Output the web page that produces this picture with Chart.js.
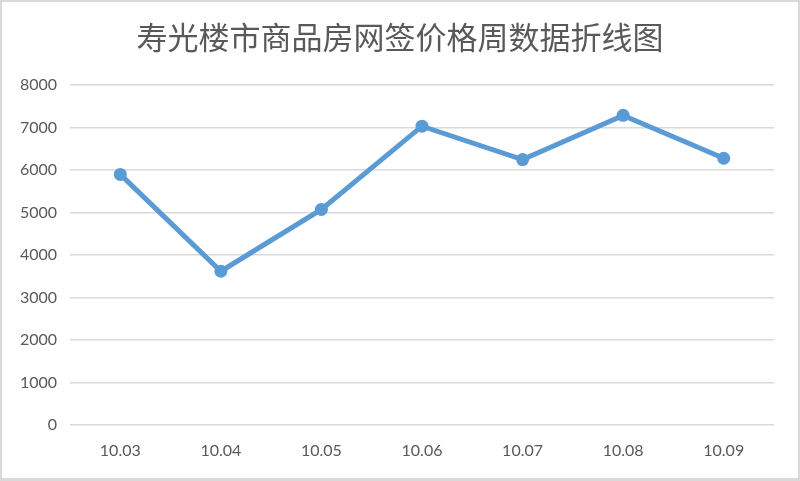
<!DOCTYPE html>
<html>
<head>
<meta charset="utf-8">
<script src="https://cdn.jsdelivr.net/npm/chart.js@4"></script>
<style>
  html, body { margin: 0; padding: 0; background: #fff; }
  #wrap { position: relative; width: 800px; height: 481px; }
  #frame { position: absolute; left: 0; top: 0; width: 800px; height: 481px;
           box-sizing: border-box; border: 2px solid #d9d9d9; border-bottom-width: 3px;
           pointer-events: none; }
</style>
</head>
<body>
<div id="wrap">
  <canvas id="priceChart" width="800" height="481"></canvas>
  <div id="frame"></div>
</div>
<script>
document.addEventListener('DOMContentLoaded', () => {
    const chartTitle = '寿光楼市商品房网签价格周数据折线图';
    const weeks = ['10.03', '10.04', '10.05', '10.06', '10.07', '10.08', '10.09'];
    const prices = [5900, 3620, 5075, 7035, 6250, 7290, 6280];
    const yTicks = [0, 1000, 2000, 3000, 4000, 5000, 6000, 7000, 8000];

    const tickFont = { family: 'Lato, "Open Sans", sans-serif', size: 16 };

    new Chart(document.getElementById('priceChart'), {
        type: 'line',
        data: {
            labels: weeks,
            datasets: [{
                label: '价格',
                data: prices,
                borderColor: '#5b9bd5',
                backgroundColor: '#5b9bd5',
                borderWidth: 5,
                pointRadius: 6.5,
                pointHoverRadius: 6.5,
                pointBorderWidth: 0,
                tension: 0,
                fill: false
            }]
        },
        options: {
            responsive: false,
            animation: false,
            layout: { padding: 0 },
            scales: {
                x: {
                    offset: true,
                    grid: { display: false, drawTicks: false },
                    border: { display: false },
                    ticks: { color: '#595959', font: tickFont, padding: 16, maxRotation: 0 },
                    afterFit: (scale) => { scale.height = 56; }
                },
                y: {
                    min: 0,
                    max: 8000,
                    afterBuildTicks: (scale) => { scale.ticks = yTicks.map(v => ({ value: v })); },
                    grid: { color: '#d9d9d9', lineWidth: 1.5, drawTicks: false },
                    border: { display: false },
                    ticks: { color: '#595959', font: tickFont, padding: 13, callback: (v) => String(v) },
                    afterFit: (scale) => { scale.width = 70; }
                },
                // empty right-hand axis, only to leave the right margin
                yRight: {
                    position: 'right',
                    grid: { display: false, drawTicks: false },
                    border: { display: false },
                    ticks: { display: false },
                    afterFit: (scale) => { scale.width = 26; }
                }
            },
            plugins: {
                legend: { display: false },
                tooltip: { enabled: false },
                title: {
                    display: true,
                    text: chartTitle,
                    color: '#595959',
                    font: { family: '"Noto Sans CJK SC", sans-serif', size: 31, weight: 'normal', lineHeight: 1.2 },
                    padding: { top: 19, bottom: 29 }
                }
            }
        }
    });
});
</script>
</body>
</html>
